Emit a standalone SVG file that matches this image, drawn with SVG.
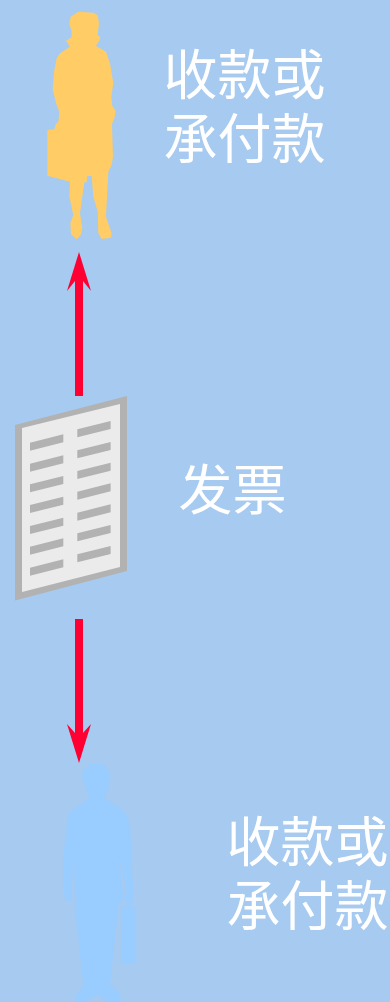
<svg xmlns="http://www.w3.org/2000/svg" width="390" height="1002" viewBox="0 0 390 1002">
<style>
.t{font-family:"Liberation Serif","Noto Sans CJK SC",serif;font-size:54px;fill:#fff}
.ar{fill:#ff0033}
.bar{fill:#b2b2b2}
</style>
<defs>
<path id="b" class="bar" d="M0 0L100 -25V-1L0 24Z"/>
</defs>
<rect width="390" height="1002" fill="#a6caf0"/>
<g id="woman"><path transform="translate(30 0) scale(.3333)" fill="#ffcc66" d="M145 35L190 38L203 45L207 70L203 105L212 112L205 127L197 137L228 155L240 190L250 250L244 290L247 318L257 332L254 352L246 372L249 470L245 495L235 515L228 650L245 700L243 713L215 717L205 700L203 635L190 590L185 528L172 528L170 547L163 547L150 640L157 685L152 705L140 718L123 703L121 668L130 645L118 590L120 545L52 527L52 390L73 388L77 373L85 365L88 335L78 310L68 268L72 215L80 175L90 160L120 140L108 122L125 112L125 95L118 70L122 50Z"/></g>
<g id="man" transform="translate(50 750) scale(.3333)" fill="#99ccff">
<path d="M120 42L160 42L178 65L180 95L165 145L225 185L240 225L250 430L243 470L228 465L222 440L230 435L225 400L205 310L220 440L205 470L180 705L205 725L215 752L175 756L140 732L105 756L75 756L75 740L100 708L75 470L72 310L62 440L65 452L48 452L40 430L42 300L55 190L118 145L97 85L97 65Z"/>
<rect x="213" y="470" width="45" height="170"/>
</g>
<g id="invoice">
<path fill="#b2b2b2" d="M15 425L127 396V571L15 600.5Z"/>
<path fill="#ebebeb" d="M22 428L120 404V567L22 592Z"/>
<g transform="translate(0 385) scale(.3333)">
<use href="#b" transform="translate(90 173)"/><use href="#b" transform="translate(90 236)"/><use href="#b" transform="translate(90 298)"/><use href="#b" transform="translate(90 360)"/><use href="#b" transform="translate(90 423)"/><use href="#b" transform="translate(90 485)"/><use href="#b" transform="translate(90 548)"/>
<use href="#b" transform="translate(232 133)"/><use href="#b" transform="translate(232 196)"/><use href="#b" transform="translate(232 258)"/><use href="#b" transform="translate(232 320)"/><use href="#b" transform="translate(232 383)"/><use href="#b" transform="translate(232 445)"/><use href="#b" transform="translate(232 508)"/>
</g>
</g>
<g id="connectors">
<path class="ar" d="M75 396V281L67 291L79 252L91 291L83 281V396Z"/>
<path class="ar" d="M75 619V733L67 724L79 763L91 724L83 733V619Z"/>
</g>
<g id="labels">
<text class="t" x="163.500" y="95">收款或</text>
<text class="t" x="163.500" y="159">承付款</text>
<text class="t" x="178.500" y="510">发票</text>
<text class="t" x="226.500" y="862">收款或</text>
<text class="t" x="226.500" y="926">承付款</text>
</g>
</svg>
